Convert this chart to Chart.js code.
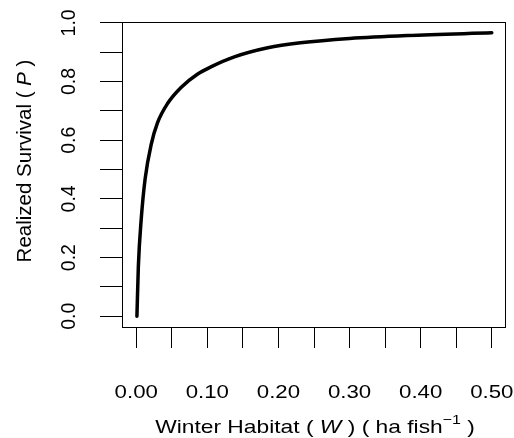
<!DOCTYPE html>
<html>
<head>
<meta charset="utf-8">
<script src="https://cdn.jsdelivr.net/npm/chart.js@4/dist/chart.umd.min.js"></script>
<style>
  body { margin: 0; background: #fff; }
  #wrap { width: 514px; height: 438px; }
</style>
</head>
<body>
<div id="wrap"><canvas id="Plot" width="514" height="438"></canvas></div>
<script>
// values
var habitatW = [0.001, 0.003, 0.007, 0.0126, 0.021, 0.030, 0.044, 0.063, 0.086, 0.105, 0.138, 0.185, 0.231, 0.30, 0.381, 0.50];
var survivalP = [0.0, 0.17, 0.33, 0.47, 0.585, 0.66, 0.725, 0.78, 0.825, 0.85, 0.884, 0.915, 0.932, 0.947, 0.957, 0.966];

var xTickValues = [0, 0.05, 0.10, 0.15, 0.20, 0.25, 0.30, 0.35, 0.40, 0.45, 0.50];
var xLabelValues = [0, 0.10, 0.20, 0.30, 0.40, 0.50];
var xTickLabels = ["0.00", "0.10", "0.20", "0.30", "0.40", "0.50"];
var yTickValues = [0, 0.1, 0.2, 0.3, 0.4, 0.5, 0.6, 0.7, 0.8, 0.9, 1.0];
var yLabelValues = [0, 0.2, 0.4, 0.6, 0.8, 1.0];
var yTickLabels = ["0.0", "0.2", "0.4", "0.6", "0.8", "1.0"];

var FONT = '"Liberation Sans", Arial, sans-serif';

var points = [];
for (var i = 0; i < habitatW.length; i++) {
  points.push({x: habitatW[i], y: survivalP[i]});
}

// draws a row of text pieces (normal / italic / superscript), centred on 0
function drawPieces(c, pieces, size, sx) {
  var widths = [], total = 0;
  pieces.forEach(function(p) {
    var s = p.sup ? size * 0.7 : size;
    c.font = (p.it ? 'italic ' : '') + s + 'px ' + FONT;
    var w = c.measureText(p.t).width;
    widths.push(w);
    total += w;
  });
  c.save();
  c.scale(sx, 1);
  var x = -total / 2;
  pieces.forEach(function(p, k) {
    var s = p.sup ? size * 0.7 : size;
    c.font = (p.it ? 'italic ' : '') + s + 'px ' + FONT;
    c.fillText(p.t, x, p.sup ? -size * 0.45 : 0);
    x += widths[k];
  });
  c.restore();
}

var rPlot = {
  id: 'rPlot',
  afterDraw: function(chart) {
    var c = chart.ctx, a = chart.chartArea;
    var xs = chart.scales.x, ys = chart.scales.y;
    c.save();
    c.strokeStyle = '#000';
    c.lineWidth = 1;
    c.strokeRect(a.left + 0.5, a.top + 0.5, a.right - a.left - 1, a.bottom - a.top - 1);

    c.fillStyle = '#000';
    c.textBaseline = 'alphabetic';
    c.textAlign = 'left';
    // x tick labels
    for (var i = 0; i < xLabelValues.length; i++) {
      c.save();
      c.translate(xs.getPixelForValue(xLabelValues[i]), 398);
      drawPieces(c, [{t: xTickLabels[i]}], 19, 1.17);
      c.restore();
    }
    // y tick labels
    for (var j = 0; j < yLabelValues.length; j++) {
      c.save();
      c.translate(75, ys.getPixelForValue(yLabelValues[j]));
      c.rotate(-Math.PI / 2);
      drawPieces(c, [{t: yTickLabels[j]}], 19.5, 1);
      c.restore();
    }
    // x title
    c.save();
    c.translate(315, 433);
    drawPieces(c, [{t: 'Winter Habitat ( '}, {t: 'W', it: true}, {t: ' ) ( ha fish'}, {t: '\u22121', sup: true}, {t: ' )'}], 19, 1.2);
    c.restore();
    // y title
    c.save();
    c.translate(31, 161);
    c.rotate(-Math.PI / 2);
    drawPieces(c, [{t: 'Realized Survival ( '}, {t: 'P', it: true}, {t: ' )'}], 20.5, 1);
    c.restore();
    c.restore();
  }
};

var myChart = new Chart(document.getElementById('Plot').getContext('2d'), {
  type: 'line',
  data: {
    datasets: [{
      data: points,
      borderColor: '#000',
      borderWidth: 3.5,
      borderCapStyle: 'round',
      borderJoinStyle: 'round',
      pointRadius: 0,
      fill: false,
      cubicInterpolationMode: 'monotone'
    }]
  },
  options: {
    responsive: false,
    animation: false,
    layout: { padding: { left: 0, right: 8, top: 22, bottom: 0 } },
    plugins: { legend: { display: false }, tooltip: { enabled: false } },
    scales: {
      x: {
        type: 'linear',
        min: -0.02,
        max: 0.52,
        afterBuildTicks: function(s) { s.ticks = xTickValues.map(function(v) { return {value: v}; }); },
        afterFit: function(s) { s.height = 110; },
        ticks: { display: false },
        border: { display: false },
        grid: { drawOnChartArea: false, drawTicks: true, tickLength: 20, color: '#000', lineWidth: 1 }
      },
      y: {
        type: 'linear',
        min: -0.04,
        max: 1.003,
        afterBuildTicks: function(s) { s.ticks = yTickValues.map(function(v) { return {value: v}; }); },
        afterFit: function(s) { s.width = 122; },
        ticks: { display: false },
        border: { display: false },
        grid: { drawOnChartArea: false, drawTicks: true, tickLength: 22, color: '#000', lineWidth: 1 }
      }
    }
  },
  plugins: [rPlot]
});
</script>
</body>
</html>
